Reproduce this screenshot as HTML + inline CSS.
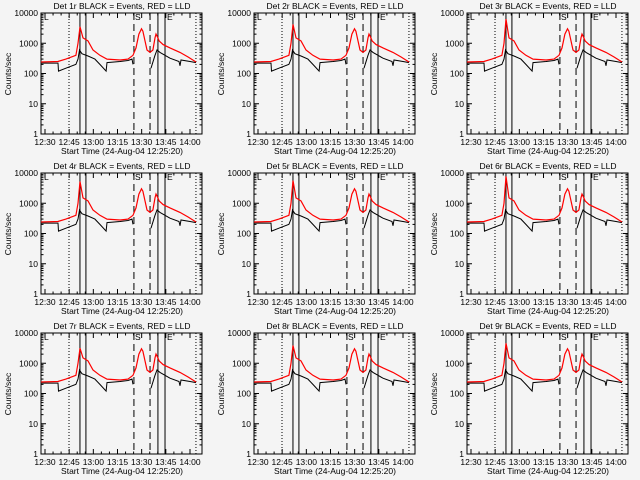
<!DOCTYPE html>
<html><head><meta charset="utf-8"><style>
body{margin:0;background:#f4f4f4}
svg{display:block}
text{font-family:"Liberation Sans",sans-serif;font-size:8.5px;fill:#000}
</style></head><body>
<svg id="chart" width="640" height="480" viewBox="0 0 640 480"></svg>
<script>
const detectors=["1r","2r","3r","4r","5r","6r","7r","8r","9r"];
const peakScale=[1,1.2,1.8,1.5,1.6,2.2,0.9,1.1,1.3];
const blackT=[27.5,38.1,38.4,43,49.2,50.5,51.4,52.9,56.7,61,64.1,67.9,68.5,76.6,81.5,84,84.6,null,95.8,98.3,99.5,101.4,104.5,107.6,113.2,113.8,114.4,120,123.7];
const blackV=[220,220,120,150,200,300,600,450,380,300,200,120,230,250,270,300,200,null,150,400,600,500,400,320,250,180,280,250,230];
const redT=[27.5,38,43,49.2,50.5,51.7,53.6,56.7,59.8,64.1,68.5,76.6,81.5,84.6,86.5,88.3,89.9,90.8,92.1,93.3,95.2,97,98.3,98.9,100.1,100.8,103.3,107.6,113.8,118.8,123.7];
const redV=[240,250,300,400,1000,3500,1500,1200,600,400,300,280,300,400,700,2000,3000,2500,1200,600,500,600,1500,2000,1500,1200,900,700,500,350,240];
const xTickLabels=["12:30","12:45","13:00","13:15","13:30","13:45","14:00"];
const xTickTimes=[30,45,60,75,90,105,120];
const yTickLabels=["10000","1000","100","10","1"];
const yTickValues=[10000,1000,100,10,1];
const dottedT=[44.9,123.7], solidT=[51.7,55.4,100.1,104.5], dashedT=[85.2,95.2];
const NS="http://www.w3.org/2000/svg";
const svg=document.getElementById('chart');
function mk(tag,attrs,parent){const e=document.createElementNS(NS,tag);for(const k in attrs)e.setAttribute(k,attrs[k]);parent.appendChild(e);return e;}
const L=41,R=202,T=13,B=134;
const xs=t=>45+(t-30)*1.611;
const ys=v=>B-Math.log10(v)*(B-T)/4;
detectors.forEach((d,i)=>{
  const ox=(i%3)*213, oy=Math.floor(i/3)*160;
  const g=mk('g',{transform:`translate(${ox},${oy})`},svg);
  
  
  const tt=mk('text',{x:122,y:9,'text-anchor':'middle'},g);tt.textContent=`Det ${d} BLACK = Events, RED = LLD`;
  
  const fr=mk('rect',{x:L,y:T,width:R-L,height:B-T,fill:'none',stroke:'#000','stroke-width':1},g);
  
  yTickValues.forEach((v,k)=>{const y=ys(v);
    mk('line',{x1:L,x2:L+5,y1:y,y2:y,stroke:'#000'},g);mk('line',{x1:R-5,x2:R,y1:y,y2:y,stroke:'#000'},g);
    for(let m=2;m<10&&v<10000;m++){const yy=ys(v*m);mk('line',{x1:L,x2:L+2.5,y1:yy,y2:yy,stroke:'#000'},g);mk('line',{x1:R-2.5,x2:R,y1:yy,y2:yy,stroke:'#000'},g);}
    const tl=mk('text',{x:38,y:y+3,'text-anchor':'end'},g);tl.textContent=yTickLabels[k];
    });
  xTickTimes.forEach((t,k)=>{const x=xs(t);
    mk('line',{x1:x,x2:x,y1:B,y2:B-5,stroke:'#000'},g);mk('line',{x1:x,x2:x,y1:T,y2:T+5,stroke:'#000'},g);
    for(let m=5;m<15&&t<120;m+=5){const xx=xs(t+m);mk('line',{x1:xx,x2:xx,y1:B,y2:B-2.5,stroke:'#000'},g);mk('line',{x1:xx,x2:xx,y1:T,y2:T+2.5,stroke:'#000'},g);}
    const tl=mk('text',{x:x,y:145,'text-anchor':'middle'},g);tl.textContent=xTickLabels[k];
    });
  const yl=mk('text',{x:0,y:0,'text-anchor':'middle',transform:'translate(11,74) rotate(-90)'},g);yl.textContent='Counts/sec';
  
  const xl=mk('text',{x:122,y:154,'text-anchor':'middle'},g);xl.textContent='Start Time (24-Aug-04 12:25:20)';
  
  dottedT.forEach(t=>mk('line',{x1:xs(t),x2:xs(t),y1:T,y2:B,stroke:'#000','stroke-dasharray':'1,2'},g));
  solidT.forEach(t=>mk('line',{x1:xs(t),x2:xs(t),y1:T,y2:B,stroke:'#000'},g));
  dashedT.forEach(t=>mk('line',{x1:xs(t),x2:xs(t),y1:T,y2:B,stroke:'#000','stroke-dasharray':'7,4'},g));
  [['L',44],['S',135],['E',167]].forEach(([s,x])=>{const m=mk('text',{x:x,y:20},g);m.textContent=s;});
  let dB='',pen=false;
  blackT.forEach((t,k)=>{if(t===null){pen=false;return;}dB+=(pen?'L':'M')+xs(t).toFixed(1)+','+ys(blackV[k]).toFixed(1);pen=true;});
  const pb=mk('path',{d:dB,fill:'none',stroke:'#000','stroke-width':1},g);
  
  let dR='';
  redT.forEach((t,k)=>{const v=(k===5)?redV[k]*peakScale[i]:redV[k];dR+=(k?'L':'M')+xs(t).toFixed(1)+','+ys(v).toFixed(1);});
  const pr=mk('path',{d:dR,fill:'none',stroke:'#ff0000','stroke-width':1.2},g);
  
});
</script>
</body></html>
